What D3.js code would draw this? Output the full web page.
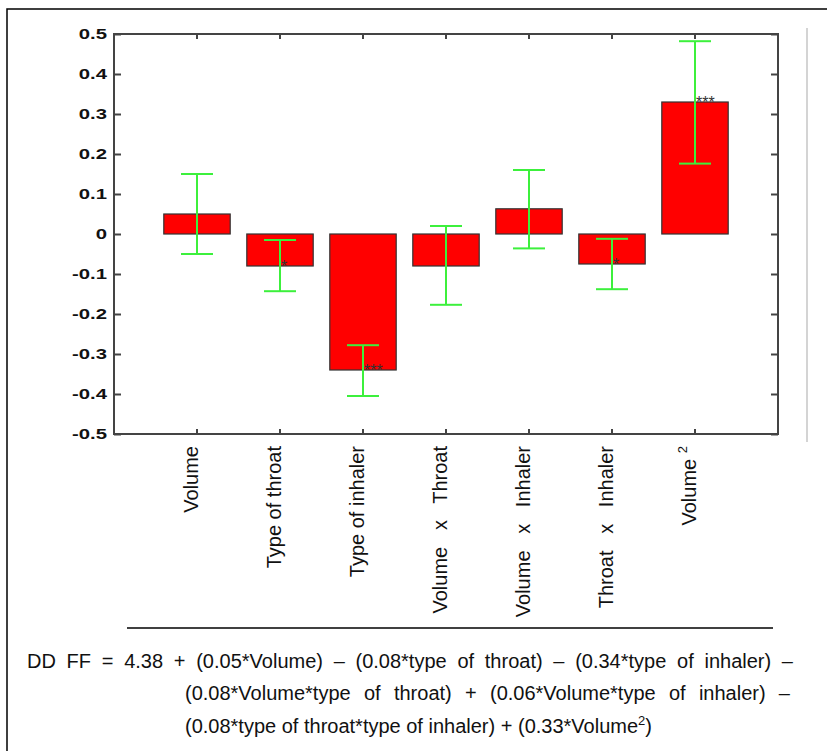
<!DOCTYPE html>
<html>
<head>
<meta charset="utf-8">
<script src="https://cdn.jsdelivr.net/npm/d3@7"></script>
<style>
  body { margin: 0; background: #fff; }
  svg { display: block; }
</style>
</head>
<body>
<div class="chart"></div>
<script>
// model terms and their coefficients
const terms = ["Volume", "Type of throat", "Type of inhaler", "Volume   x   Throat",
               "Volume   x   Inhaler", "Throat   x   Inhaler", "Volume "];
const termSup = ["", "", "", "", "", "", "2"];
const coef = [0.05, -0.08, -0.34, -0.08, 0.063, -0.075, 0.33];
const errLow = [-0.05, -0.143, -0.405, -0.177, -0.036, -0.138, 0.176];
const errHigh = [0.15, -0.015, -0.278, 0.02, 0.16, -0.012, 0.482];
const signif = ["", "*", "***", "", "", "*", "***"];
const yTicks = [-0.5, -0.4, -0.3, -0.2, -0.1, 0, 0.1, 0.2, 0.3, 0.4, 0.5];

// equation below the chart, segments: [text, isSuperscript]
const eqLines = [
  [["DD FF = 4.38 + (0.05*Volume) – (0.08*type of throat) – (0.34*type of inhaler) –", false]],
  [["(0.08*Volume*type of throat) + (0.06*Volume*type of inhaler) –", false]],
  [["(0.08*type of throat*type of inhaler) + (0.33*Volume", false], ["2", true], [")", false]]
];

const width = 827;
const height = 751;
const plotL = 114, plotR = 778, plotT = 34, plotB = 434;

const svg = d3.select('.chart')
  .append('svg')
  .attr('width', width)
  .attr('height', height)

// outer frame (runs off the right and bottom edge)
svg.append('rect')
  .attr('x', 7).attr('y', 9)
  .attr('width', 900).attr('height', 900)
  .attr('fill', 'none')
  .attr('stroke', '#000')
  .attr('stroke-width', 1.5)

// faint gray divider on the right
svg.append('line')
  .attr('x1', 807).attr('x2', 807)
  .attr('y1', 28).attr('y2', 442)
  .attr('stroke', '#d4d4d4')
  .attr('stroke-width', 2)

const x = d3.scaleBand()
  .domain(d3.range(terms.length))
  .range([plotL + 41.5, plotR - 41.5])
  .paddingInner(0.2)
  .paddingOuter(0.1)

const y = d3.scaleLinear()
  .domain([-0.5, 0.5])
  .range([plotB, plotT])

const cx = i => x(i) + x.bandwidth() / 2;

// bars
svg.selectAll("rect.bar")
  .data(coef)
  .enter()
  .append("rect")
  .attr("class", "bar")
  .attr("x", (d, i) => x(i))
  .attr("y", d => y(Math.max(0, d)))
  .attr("width", x.bandwidth())
  .attr("height", d => Math.abs(y(d) - y(0)))
  .attr("fill", "#ff0000")
  .attr("stroke", "#333")
  .attr("stroke-width", 1.2)

// error bars
const eb = svg.selectAll("g.err")
  .data(coef)
  .enter()
  .append("g")
  .attr("class", "err")
  .attr("stroke", "#3cf03c")
  .attr("stroke-width", 2)

eb.append("line")
  .attr("x1", (d, i) => cx(i)).attr("x2", (d, i) => cx(i))
  .attr("y1", (d, i) => y(errLow[i])).attr("y2", (d, i) => y(errHigh[i]))
eb.append("line")
  .attr("x1", (d, i) => cx(i) - 16).attr("x2", (d, i) => cx(i) + 16)
  .attr("y1", (d, i) => y(errLow[i])).attr("y2", (d, i) => y(errLow[i]))
eb.append("line")
  .attr("x1", (d, i) => cx(i) - 16).attr("x2", (d, i) => cx(i) + 16)
  .attr("y1", (d, i) => y(errHigh[i])).attr("y2", (d, i) => y(errHigh[i]))

// significance stars
svg.selectAll("text.sig")
  .data(coef)
  .enter()
  .append("text")
  .attr("class", "sig")
  .attr("x", (d, i) => cx(i) + 1)
  .attr("y", d => y(d) + 6)
  .attr("font-family", "Liberation Sans, Arial, sans-serif")
  .attr("font-size", 16)
  .attr("fill", "#333")
  .text((d, i) => signif[i])

// axes
const fmt = d => d === 0 ? "0" : d3.format(".1f")(d).replace("−", "-");
const stretch = 1.45;

svg.append("g")
  .attr("transform", `translate(${plotL},0)`)
  .call(d3.axisLeft(y).tickValues(yTicks).tickSizeInner(-7).tickSizeOuter(0).tickPadding(7).tickFormat(fmt))
  .call(g => g.selectAll("text")
    .attr("x", -7 / stretch)
    .attr("transform", `scale(${stretch},1)`)
    .attr("font-family", "Liberation Sans, Arial, sans-serif")
    .attr("font-weight", "bold")
    .attr("font-size", 14)
    .attr("fill", "#111"))

svg.append("g")
  .attr("transform", `translate(${plotR},0)`)
  .call(d3.axisRight(y).tickValues(yTicks).tickSizeInner(-7).tickSizeOuter(0).tickFormat(""))

svg.append("g")
  .attr("transform", `translate(0,${plotT})`)
  .call(d3.axisTop(x).tickSizeInner(-5).tickSizeOuter(0).tickFormat(""))

svg.append("g")
  .attr("transform", `translate(0,${plotB})`)
  .call(d3.axisBottom(x).tickSizeInner(-5).tickSizeOuter(0).tickFormat(""))

svg.selectAll(".domain").remove();
svg.selectAll(".tick line").attr("stroke", "#444").attr("stroke-width", 2);

svg.append("rect")
  .attr("x", plotL).attr("y", plotT)
  .attr("width", plotR - plotL).attr("height", plotB - plotT)
  .attr("fill", "none")
  .attr("stroke", "#444")
  .attr("stroke-width", 2)

// rotated category labels
const lbl = svg.selectAll("text.cat")
  .data(terms)
  .enter()
  .append("text")
  .attr("class", "cat")
  .attr("transform", (d, i) => `translate(${cx(i) + 1},446) rotate(-90)`)
  .attr("text-anchor", "end")
  .attr("font-family", "Liberation Sans, Arial, sans-serif")
  .attr("font-size", 20)
  .attr("fill", "#111")
  .style("white-space", "pre")

lbl.append("tspan").text(d => d)
lbl.append("tspan")
  .attr("font-size", 13)
  .attr("dy", -9)
  .text((d, i) => termSup[i])

// separator line above the equation
svg.append("line")
  .attr("x1", 127).attr("x2", 773)
  .attr("y1", 628).attr("y2", 628)
  .attr("stroke", "#000")
  .attr("stroke-width", 1.5)

// equation, first two lines justified
const eqX = [27, 185, 185];
const eqRight = [793, 790, null];
const eqY = [668, 700, 733];

eqLines.forEach((segs, k) => {
  const t = svg.append("text")
    .attr("x", eqX[k])
    .attr("y", eqY[k])
    .attr("font-family", "Liberation Sans, Arial, sans-serif")
    .attr("font-size", 20)
    .attr("fill", "#111")
    .style("white-space", "pre")
  segs.forEach(s => {
    const ts = t.append("tspan").text(s[0]);
    if (s[1]) ts.attr("font-size", 13).attr("dy", -8);
    else if (t.selectAll("tspan").size() > 1) ts.attr("dy", 8);
  });
  if (eqRight[k] !== null) {
    const target = eqRight[k] - eqX[k];
    const natural = t.node().getComputedTextLength();
    const spaces = segs.map(s => s[0]).join("").split(" ").length - 1;
    if (natural < target) {
      t.attr("word-spacing", (target - natural) / spaces);
    } else {
      t.attr("textLength", target).attr("lengthAdjust", "spacingAndGlyphs");
    }
  }
});
</script>
</body>
</html>
